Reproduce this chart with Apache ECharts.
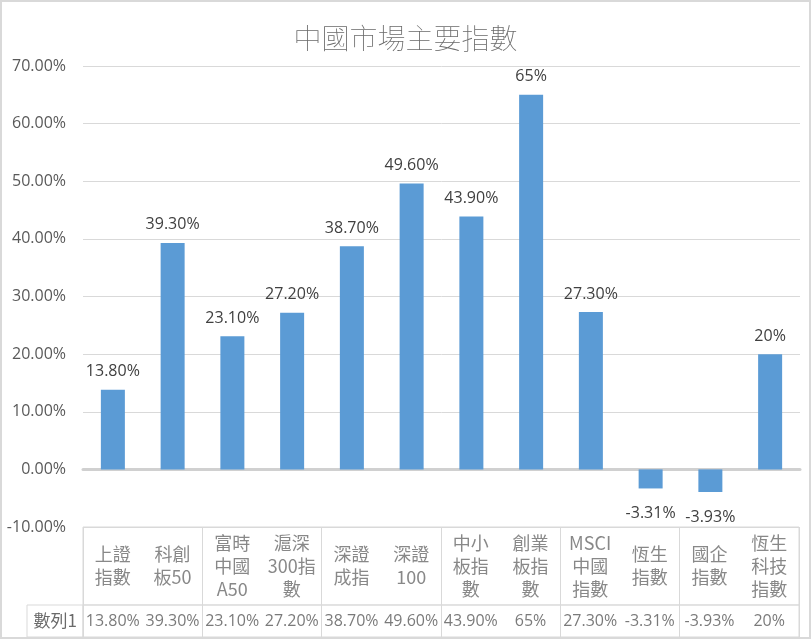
<!DOCTYPE html>
<html>
<head>
<meta charset="utf-8">
<script src="https://cdn.jsdelivr.net/npm/echarts@6/dist/echarts.min.js"></script>
<style>html,body{margin:0;padding:0;background:#fff}#c{width:811px;height:639px}</style>
</head>
<body>
<div id="c"></div>
<script>
const titleText = '中國市場主要指數';
const categories = ['上證指數','科創板50','富時中國A50','滬深300指數','深證成指','深證100','中小板指數','創業板指數','MSCI中國指數','恆生指數','國企指數','恆生科技指數'];
const categoryLines = ['上證\n指數','科創\n板50','富時\n中國\nA50','滬深\n300指\n數','深證\n成指','深證\n100','中小\n板指\n數','創業\n板指\n數','MSCI\n中國\n指數','恆生\n指數','國企\n指數','恆生\n科技\n指數'];
const seriesName = '數列1';
const values = [13.8, 39.3, 23.1, 27.2, 38.7, 49.6, 43.9, 65, 27.3, -3.31, -3.93, 20];
const yTicks = { min: -10, max: 70, interval: 10 };

const fmt = v => Number.isInteger(v) ? v + '%' : v.toFixed(2) + '%';
const CJK = '"Noto Sans CJK TC", "Noto Sans", sans-serif';
const LAT = '"Open Sans", "Noto Sans CJK TC", sans-serif';
const GRID_C = '#D9D9D9';

const chart = echarts.init(document.getElementById('c'));
chart.setOption({
  animation: false,
  backgroundColor: '#fff',
  title: {
    text: titleText, left: 'center', top: 19,
    textStyle: { fontFamily: CJK, fontSize: 28, fontWeight: 'lighter', color: '#6a6a6a' }
  },
  grid: [
    { left: 83, right: 11, top: 66, height: 461 },
    { left: 83, right: 12, top: 527, height: 78, show: true, borderColor: GRID_C, borderWidth: 1 },
    { left: 83, right: 12, top: 605, height: 32, show: true, borderColor: GRID_C, borderWidth: 1 }
  ],
  xAxis: [
    { type: 'category', gridIndex: 0, data: categories,
      axisLine: { show: true, onZero: true, lineStyle: { color: '#D0D0D0', width: 3 } },
      axisTick: { show: false }, axisLabel: { show: false } },
    { type: 'category', gridIndex: 1, data: categories,
      axisLine: { show: false }, axisTick: { show: false }, axisLabel: { show: false },
      splitLine: { show: true, lineStyle: { color: GRID_C, width: 1 } } },
    { type: 'category', gridIndex: 2, data: categories,
      axisLine: { show: false }, axisTick: { show: false }, axisLabel: { show: false },
      splitLine: { show: true, lineStyle: { color: GRID_C, width: 1 } } }
  ],
  yAxis: [
    { type: 'value', gridIndex: 0, min: yTicks.min, max: yTicks.max, interval: yTicks.interval,
      axisLine: { show: false }, axisTick: { show: false },
      axisLabel: { formatter: v => v.toFixed(2) + '%', fontFamily: LAT, fontSize: 16, color: '#595959', margin: 17 },
      splitLine: { lineStyle: { color: GRID_C, width: 1 } } },
    { type: 'category', gridIndex: 1, data: [''],
      axisLine: { show: false }, axisTick: { show: false }, axisLabel: { show: false } },
    { type: 'category', gridIndex: 2, data: [seriesName],
      axisLine: { show: false }, axisTick: { show: false },
      axisLabel: { show: true, fontFamily: CJK, fontSize: 17, color: '#6a6a6a', margin: 6 } }
  ],
  series: [
    { type: 'bar', xAxisIndex: 0, yAxisIndex: 0, barWidth: 24, silent: true,
      data: values.map(v => v < 0 ? { value: v, label: { distance: 17 } } : v),
      itemStyle: { color: '#5B9BD5' },
      label: { show: true, position: 'outside', distance: 10, formatter: p => fmt(p.value),
        fontFamily: LAT, fontSize: 16, color: '#404040' } },
    { type: 'scatter', xAxisIndex: 1, yAxisIndex: 1, silent: true, symbolSize: 1,
      itemStyle: { color: 'transparent' },
      data: categories.map((c, i) => [i, 0]),
      label: { show: true, position: 'inside', formatter: p => categoryLines[p.dataIndex],
        fontFamily: CJK, fontSize: 18, lineHeight: 23, color: '#6a6a6a', align: 'center' } },
    { type: 'scatter', xAxisIndex: 2, yAxisIndex: 2, silent: true, symbolSize: 1,
      itemStyle: { color: 'transparent' },
      data: values.map((v, i) => [i, 0]),
      label: { show: true, position: 'inside', formatter: p => fmt(values[p.dataIndex]),
        fontFamily: LAT, fontSize: 16, color: '#595959', align: 'center' } }
  ],
  graphic: [
    { type: 'rect', silent: true, z: 100, shape: { x: 27, y: 605, width: 56, height: 32 },
      style: { fill: 'none', stroke: GRID_C, lineWidth: 1 } },
    { type: 'rect', silent: true, z: 100, shape: { x: 1, y: 1, width: 809, height: 637 },
      style: { fill: 'none', stroke: GRID_C, lineWidth: 2 } }
  ]
});
</script>
</body>
</html>
